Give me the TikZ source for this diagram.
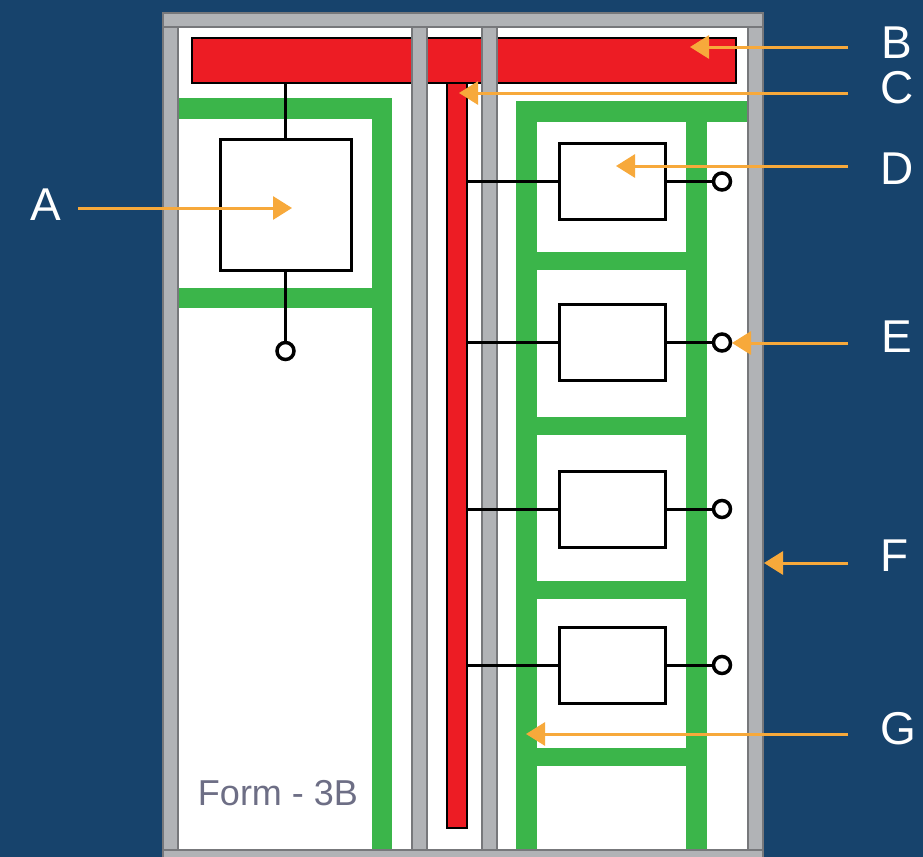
\documentclass[tikz,border=0pt]{standalone}
\usepackage{fontspec}
\setmainfont{Liberation Sans}
\usetikzlibrary{arrows.meta}
\definecolor{panelblue}{HTML}{17436C}
\definecolor{postgray}{HTML}{B1B3B6}
\definecolor{postedge}{HTML}{77787B}
\definecolor{busred}{HTML}{ED1C24}
\definecolor{bargreen}{HTML}{3BB54A}
\definecolor{callorange}{HTML}{F7A93B}
\definecolor{formgray}{HTML}{6D6E85}
\tikzset{
 post/.style={fill=postgray,draw=postedge,line width=1pt},
 bar/.style={fill=bargreen},
 bus/.style={draw=black,fill=busred,line width=1pt,inner sep=0pt,outer sep=0pt},
 device/.style={draw=black,fill=white,line width=1.5pt,inner sep=0pt,outer sep=0pt},
 wire/.style={draw=black,line width=1.5pt},
 terminal/.style={circle,draw=black,fill=white,line width=1.75pt,minimum size=8.5pt,inner sep=0pt,outer sep=0pt},
 callout/.style={draw=callorange,line width=1.5pt,-{Triangle[length=9.5pt,width=11.5pt]}},
 letter/.style={text=white,font=\fontsize{23}{23}\selectfont,inner sep=0pt}
}
\begin{document}
\begin{tikzpicture}[x=0.5pt,y=-0.5pt]
 \useasboundingbox (0,0) rectangle (923,857);
 \fill[panelblue] (0,0) rectangle (923,857);
 \fill[white] (178,27) rectangle (748,850);

 \node[bus,minimum width=10pt,minimum height=372.5pt] (busV) at (457,455.5) {};
 \node[bus,minimum width=272pt,minimum height=22.5pt] (busH) at (464,60.5) {};

 \fill[bar] (178,98) rectangle (392,119);
 \fill[bar] (372,119) rectangle (392,850);
 \fill[bar] (178,288) rectangle (372,308);
 \fill[bar] (516,101) rectangle (748,122);
 \fill[bar] (516,122) rectangle (537,850);
 \fill[bar] (686,122) rectangle (707,850);
 \fill[bar] (537,252) rectangle (686,270);
 \fill[bar] (537,417) rectangle (686,435);
 \fill[bar] (537,581) rectangle (686,599);
 \fill[bar] (537,748) rectangle (686,766);

 \draw[post] (163,27) rectangle (178,850);
 \draw[post] (412,27) rectangle (427,850);
 \draw[post] (482,27) rectangle (497,850);
 \draw[post] (748,27) rectangle (763,850);
 \draw[post] (163,13) rectangle (763,27);
 \draw[post] (163,850) rectangle (763,860);

 \node[device,minimum width=65.5pt,minimum height=65.5pt] (devA) at (285.5,204.5) {};
 \node[device,minimum width=53pt,minimum height=38pt] (devD) at (612,181.5) {};
 \node[device,minimum width=53pt,minimum height=38pt] (devE) at (612,342.5) {};
 \node[device,minimum width=53pt,minimum height=38pt] (devF) at (612,509) {};
 \node[device,minimum width=53pt,minimum height=38pt] (devG) at (612,665) {};
 \node[terminal] (termA) at (285.5,351) {};
 \node[terminal] (termD) at (722,181.5) {};
 \node[terminal] (termE) at (722,342.5) {};
 \node[terminal] (termF) at (722,509) {};
 \node[terminal] (termG) at (722,665) {};

 \draw[wire] (busH.south -| devA) -- (devA);
 \draw[wire] (devA) -- (termA);
 \draw[wire] (busV.east |- devD) -- (devD);
 \draw[wire] (busV.east |- devE) -- (devE);
 \draw[wire] (busV.east |- devF) -- (devF);
 \draw[wire] (busV.east |- devG) -- (devG);
 \draw[wire] (devD) -- (termD);
 \draw[wire] (devE) -- (termE);
 \draw[wire] (devF) -- (termF);
 \draw[wire] (devG) -- (termG);

 \node[text=formgray,font=\fontsize{18}{18}\selectfont,inner sep=0pt] (formname) at (278,793) {Form - 3B};

 \node[letter] (lblA) at (46,205) {A};
 \node[letter] (lblB) at (897,43) {B};
 \node[letter] (lblC) at (897,88) {C};
 \node[letter] (lblD) at (897,169) {D};
 \node[letter] (lblE) at (897,337) {E};
 \node[letter] (lblF) at (895,556) {F};
 \node[letter] (lblG) at (898,729) {G};

 \coordinate (fromA) at (78,208);
 \coordinate (tipA) at (292,208);
 \coordinate (fromB) at (848,47);
 \coordinate (tipB) at (690,47);
 \coordinate (fromC) at (848,93);
 \coordinate (tipC) at (459,93);
 \coordinate (fromD) at (848,166);
 \coordinate (tipD) at (616,166);
 \coordinate (fromE) at (848,343);
 \coordinate (tipE) at (732,343);
 \coordinate (fromF) at (848,563);
 \coordinate (tipF) at (764,563);
 \coordinate (fromG) at (848,734);
 \coordinate (tipG) at (526,734);
 \draw[callout] (fromA) -- (tipA);
 \draw[callout] (fromB) -- (tipB);
 \draw[callout] (fromC) -- (tipC);
 \draw[callout] (fromD) -- (tipD);
 \draw[callout] (fromE) -- (tipE);
 \draw[callout] (fromF) -- (tipF);
 \draw[callout] (fromG) -- (tipG);
\end{tikzpicture}
\end{document}
